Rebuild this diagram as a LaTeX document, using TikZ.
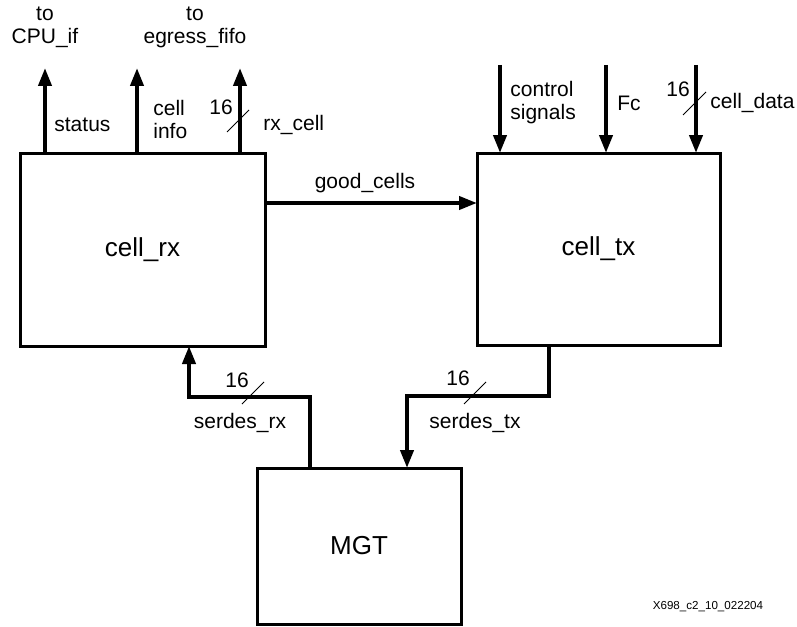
\documentclass[tikz,border=0pt]{standalone}
\usepackage{fontspec}
\setmainfont{Liberation Sans}
\usetikzlibrary{arrows.meta}
\begin{document}
\begin{tikzpicture}[x=0.5pt,y=-0.5pt,
  blk/.style={draw,line width=1.5pt,inner sep=0pt,outer sep=0pt,font=\fontsize{13}{15}\selectfont},
  sig/.style={line width=2pt,-{Triangle[length=9pt,width=6.5pt]}},
  bus/.style={line width=2pt},
  lbl/.style={inner sep=0pt,font=\fontsize{10.5}{11.5}\selectfont},
  slash/.style={line width=0.5pt}]
\useasboundingbox (0,0) rectangle (797,626);
% blocks
\node[blk,minimum width=122.5pt,minimum height=96.5pt] (rx) at (142.5,249.5) {cell\_rx};
\node[blk,minimum width=121.5pt,minimum height=96pt] (tx) at (598.5,249) {cell\_tx};
\node[blk,minimum width=102pt,minimum height=78pt] (mgt) at (359,546) {MGT};
% free ends
\coordinate (o1) at (45,68);
\coordinate (o2) at (137,68);
\coordinate (o3) at (240,68);
\coordinate (i1) at (500,65);
\coordinate (i2) at (606,65);
\coordinate (i3) at (696,65);
\coordinate (rb1) at (310,397);
\coordinate (rb2) at (189,397);
\coordinate (tb1) at (549,396);
\coordinate (tb2) at (407,396);
% outputs of cell_rx
\draw[sig] (45,0 |- rx.north) -- (o1);
\draw[sig] (137,0 |- rx.north) -- (o2);
\draw[sig] (240,0 |- rx.north) -- (o3);
\draw[slash] (227,132) -- (249,110);
% inputs of cell_tx
\draw[sig] (i1) -- (i1 |- tx.north);
\draw[sig] (i2) -- (i2 |- tx.north);
\draw[sig] (i3) -- (i3 |- tx.north);
\draw[slash] (683,115) -- (706,92);
% good_cells
\draw[sig] (rx.east |- 0,203) -- (tx.west |- 0,203);
% serdes_rx
\draw[sig] (rb1 |- mgt.north) -- (rb1) -- (rb2) -- (rb2 |- rx.south);
\draw[slash] (242,404) -- (264,382);
% serdes_tx
\draw[sig] (tb1 |- tx.south) -- (tb1) -- (tb2) -- (tb2 |- mgt.north);
\draw[slash] (464,404) -- (486,382);
% labels
\node[lbl,align=center] (l1) at (45,27) {to\\CPU\_if};
\node[lbl,align=center] (l2) at (195,27) {to\\egress\_fifo};
\node[lbl,anchor=west] (l3) at (54,125) {status};
\node[lbl,anchor=west,align=left] (l4) at (153,119) {cell\\info};
\node[lbl] (l5) at (221,107) {16};
\node[lbl,anchor=west] (l6) at (263,125) {rx\_cell};
\node[lbl,anchor=west,align=left] (l7) at (510,102.5) {control\\signals};
\node[lbl,anchor=west] (l8) at (617,103) {Fc};
\node[lbl] (l9) at (678,89) {16};
\node[lbl,anchor=west] (l10) at (710,103) {cell\_data};
\node[lbl] (l11) at (365,183) {good\_cells};
\node[lbl] (l12) at (237,380) {16};
\node[lbl] (l13) at (240,423) {serdes\_rx};
\node[lbl] (l14) at (458,378) {16};
\node[lbl] (l15) at (475,423) {serdes\_tx};
\node[inner sep=0pt,font=\fontsize{5.8}{7}\selectfont] (l16) at (708,607) {X698\_c2\_10\_022204};
\end{tikzpicture}
\end{document}
